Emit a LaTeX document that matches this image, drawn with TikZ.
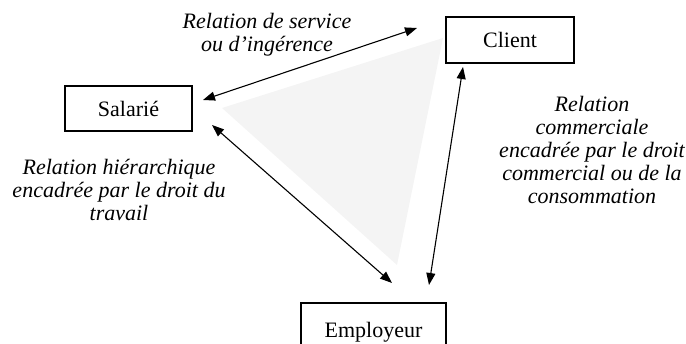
\documentclass[tikz,border=0pt]{standalone}
\usepackage{fontspec}
\setmainfont{Liberation Serif}
\usetikzlibrary{arrows.meta}
\definecolor{tri}{HTML}{F4F4F4}
\begin{document}
\begin{tikzpicture}[x=1pt,y=-1pt,
  party/.style={draw, line width=1.1pt, inner sep=0pt, font=\fontsize{22}{23}\selectfont},
  rel/.style={font=\fontsize{22}{23}\selectfont\itshape, align=center, inner sep=0pt},
  link/.style={line width=1.1pt, {Triangle[length=12pt,width=9pt]}-{Triangle[length=12pt,width=9pt]}}]
\useasboundingbox (0,0) rectangle (686,344);
\clip (0,0) rectangle (686,344);
\fill[tri] (443,38) -- (222,108) -- (397,265) -- cycle;
\node[party, minimum width=127pt, minimum height=45pt] (sal) at (128.5,108.5) {Salarié};
\node[party, minimum width=128pt, minimum height=46pt] (cli) at (510,40) {Client};
\node[party, minimum width=145pt, minimum height=58pt] (emp) at (373.5,332) {Employeur};
\coordinate (sc1) at (203,100);
\coordinate (sc2) at (417,28);
\coordinate (se1) at (212,125);
\coordinate (se2) at (392,283);
\coordinate (ce1) at (463,67);
\coordinate (ce2) at (429,285);
\draw[link] (sc1) -- (sc2);
\draw[link] (se1) -- (se2);
\draw[link] (ce1) -- (ce2);
\node[rel] (lsc) at (267,35) {Relation de service\\ou d’ingérence};
\node[rel] (lse) at (119,190) {Relation hiérarchique\\encadrée par le droit du\\travail};
\node[rel] (lce) at (592,150) {Relation\\commerciale\\encadrée par le droit\\commercial ou de la\\consommation};
\end{tikzpicture}
\end{document}
